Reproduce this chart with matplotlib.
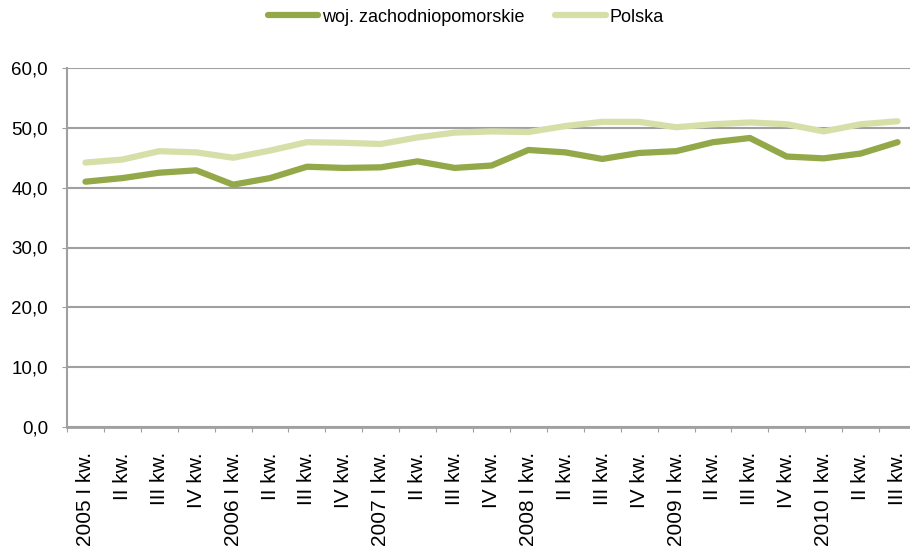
import matplotlib
matplotlib.use("Agg")
import matplotlib.pyplot as plt
import numpy as np
from matplotlib.ticker import FuncFormatter

# quarters 2005 I - 2010 III
quarters = ["2005 I kw.", "II kw.", "III kw.", "IV kw.",
            "2006 I kw.", "II kw.", "III kw.", "IV kw.",
            "2007 I kw.", "II kw.", "III kw.", "IV kw.",
            "2008 I kw.", "II kw.", "III kw.", "IV kw.",
            "2009 I kw.", "II kw.", "III kw.", "IV kw.",
            "2010 I kw.", "II kw.", "III kw."]

woj = [41.0, 41.6, 42.5, 42.9, 40.5, 41.6, 43.5, 43.3, 43.4, 44.4, 43.3, 43.7,
       46.3, 45.9, 44.8, 45.8, 46.1, 47.6, 48.3, 45.2, 44.9, 45.7, 47.6]
polska = [44.2, 44.7, 46.1, 45.9, 45.0, 46.2, 47.6, 47.5, 47.3, 48.4, 49.2, 49.4,
          49.3, 50.3, 51.0, 51.0, 50.1, 50.6, 50.9, 50.6, 49.4, 50.6, 51.1]

plt.rcParams['font.family'] = ['Liberation Sans', 'DejaVu Sans']

fig = plt.figure(figsize=(9.1, 5.54), dpi=100)
ax = fig.add_axes([67/910, 127/554, 849/910, 359/554])

x = np.arange(len(quarters))
ax.plot(x, woj, color='#93a848', lw=4.5, solid_capstyle='round', label='woj. zachodniopomorskie', zorder=3)
ax.plot(x, polska, color='#d7dfa9', lw=4.5, solid_capstyle='round', label='Polska', zorder=3)

ax.set_xlim(-0.5, len(quarters) - 0.5)
ax.set_ylim(0, 60)
ax.set_yticks(np.arange(0, 61, 10))
ax.yaxis.set_major_formatter(FuncFormatter(lambda v, p: f"{v:.1f}".replace('.', ',')))
ax.yaxis.grid(True, color='#a0a0a0', lw=1.5)
ax.set_axisbelow(True)

ax.set_xticks(np.arange(-0.5, len(quarters), 1))
ax.set_xticklabels([])
ax.set_xticks(x, minor=True)
ax.set_xticklabels(quarters, minor=True, rotation=90, fontsize=15)
ax.tick_params(axis='x', which='minor', length=0, pad=18)
ax.tick_params(axis='x', which='major', length=3.6, color='#a0a0a0')
ax.tick_params(axis='y', length=3.6, color='#a0a0a0', labelsize=13.5, pad=10)

for s in ['top', 'right']:
    ax.spines[s].set_visible(False)
ax.spines['left'].set_color('#a0a0a0')
ax.spines['left'].set_linewidth(1.5)
ax.spines['bottom'].set_color('#a0a0a0')
ax.spines['bottom'].set_linewidth(2)

fig.legend(loc='center', bbox_to_anchor=(0.512, 1 - 17/554), ncol=2, frameon=False,
           fontsize=13, handlelength=2.8, columnspacing=1.7, handletextpad=0.22,
           borderpad=0, borderaxespad=0)

fig.savefig('out.png', dpi=100)
